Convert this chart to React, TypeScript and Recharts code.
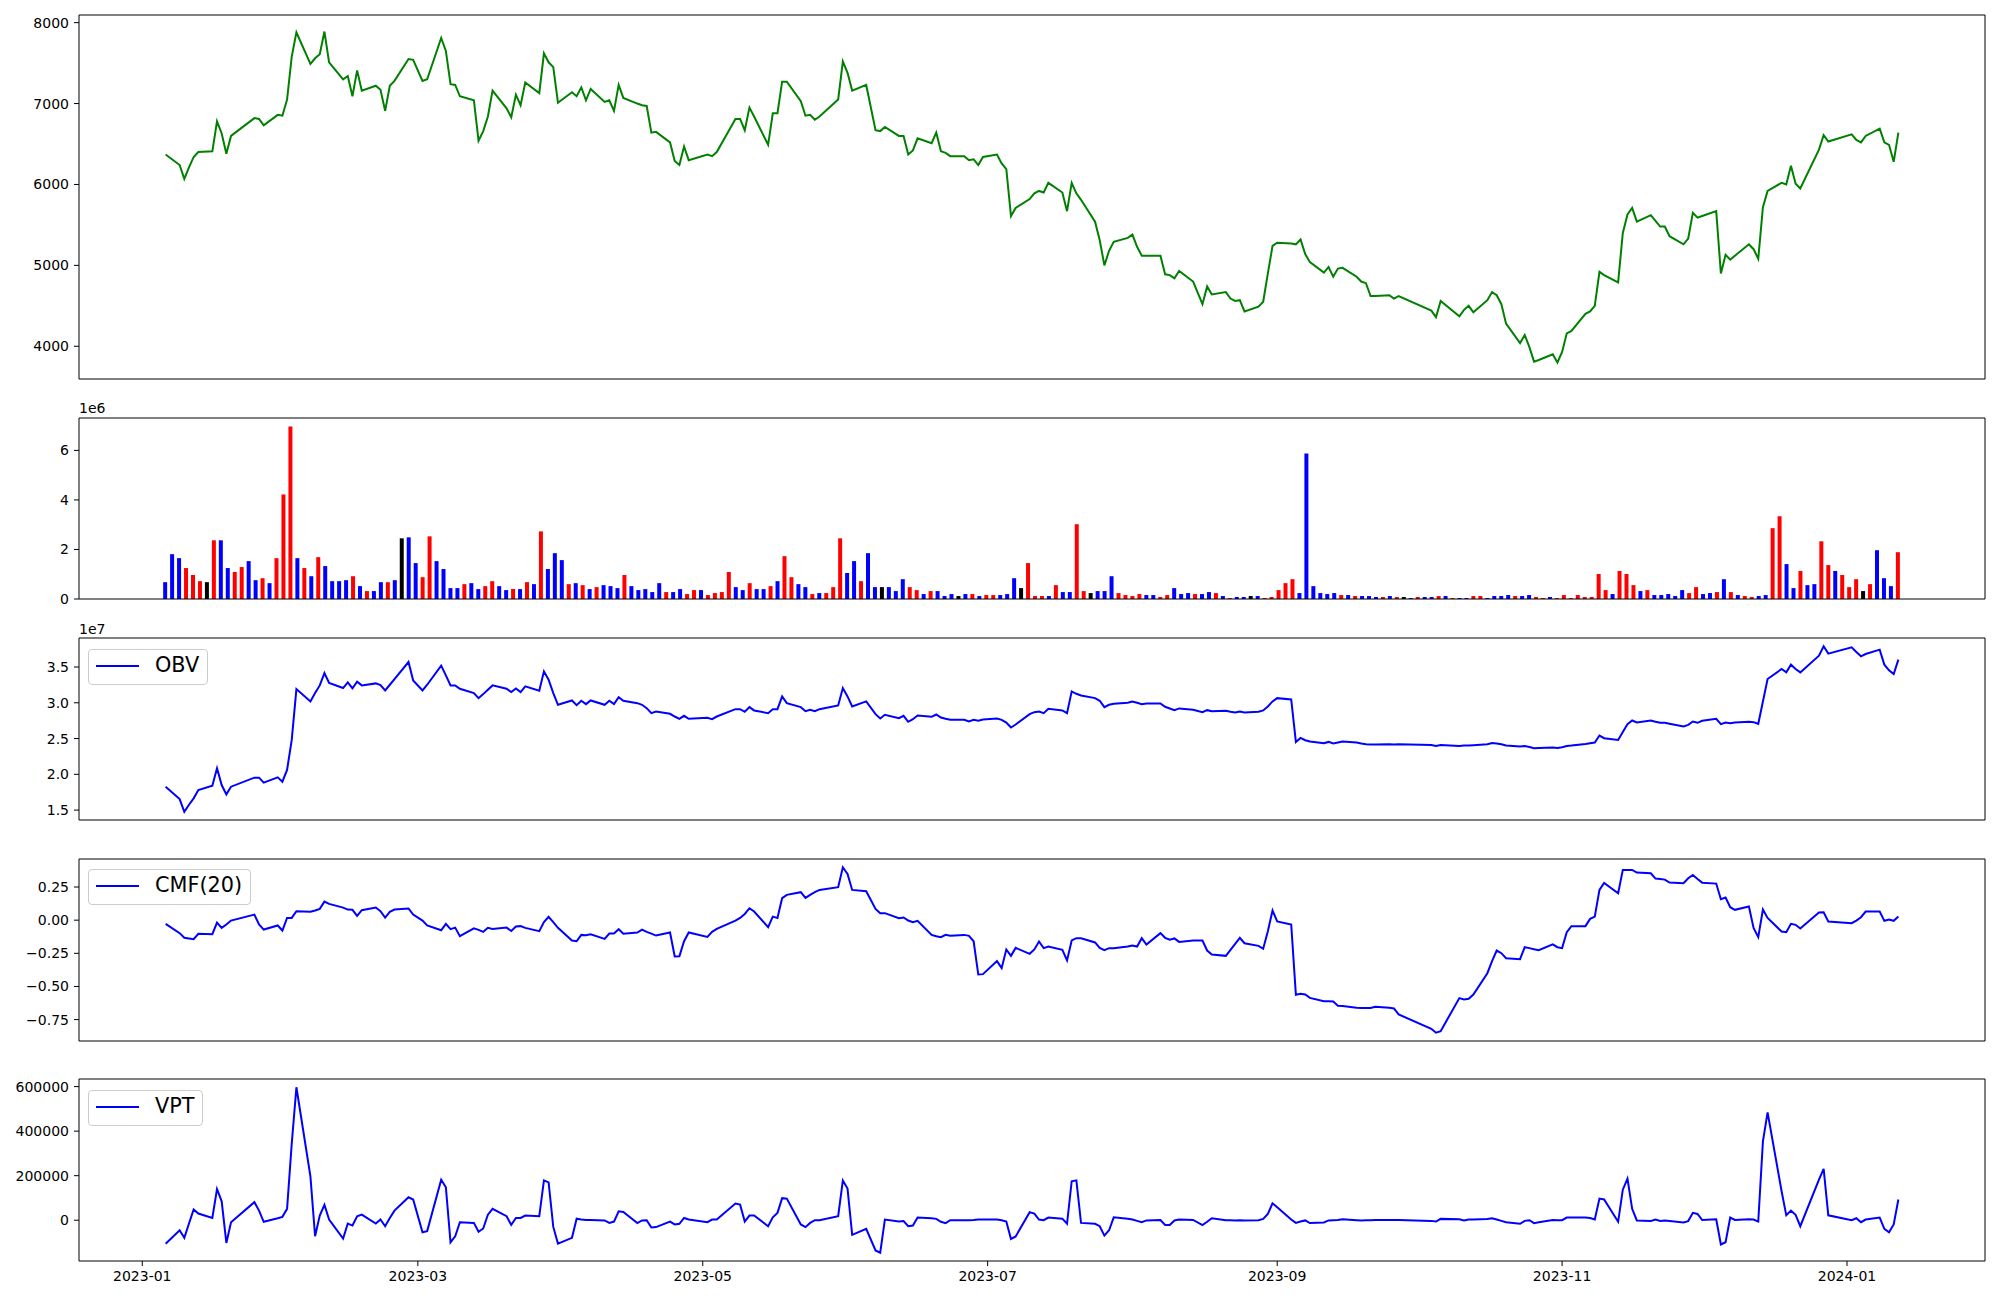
import React from 'react';
import { LineChart, Line, ComposedChart, Bar, Cell, XAxis, YAxis } from 'recharts';

// ---------- DATA ----------
const tradingCalendar: [string, number[]][] = [
  ['2023-01', [6, 9, 10, 11, 12, 13, 16, 17, 18, 19, 20, 25, 26, 27, 30, 31]],
  ['2023-02', [1, 2, 3, 6, 7, 8, 9, 10, 13, 14, 15, 16, 17, 20, 21, 22, 23, 24, 27, 28]],
  ['2023-03', [2, 3, 6, 7, 8, 9, 10, 13, 14, 15, 16, 17, 20, 21, 22, 23, 24, 27, 28, 29, 30, 31]],
  ['2023-04', [3, 4, 5, 6, 7, 10, 11, 12, 13, 14, 17, 18, 19, 20, 21, 24, 25, 26, 27, 28]],
  ['2023-05', [2, 3, 4, 8, 9, 10, 11, 12, 15, 16, 17, 18, 19, 22, 23, 24, 25, 26, 30, 31]],
  ['2023-06', [1, 2, 5, 7, 8, 9, 12, 13, 14, 15, 16, 19, 20, 21, 22, 23, 26, 27, 28, 29, 30]],
  ['2023-07', [3, 4, 5, 6, 7, 10, 11, 12, 13, 14, 17, 18, 19, 20, 21, 24, 25, 26, 27, 28, 31]],
  ['2023-08', [1, 2, 3, 4, 7, 8, 9, 10, 11, 14, 16, 17, 18, 21, 22, 23, 24, 25, 28, 29, 30, 31]],
  ['2023-09', [1, 4, 5, 6, 7, 8, 11, 12, 13, 14, 15, 18, 19, 20, 21, 22, 25, 26, 27]],
  ['2023-10', [4, 5, 6, 10, 11, 12, 13, 16, 17, 18, 19, 20, 23, 24, 25, 26, 27, 30, 31]],
  ['2023-11', [1, 2, 3, 6, 7, 8, 9, 10, 13, 14, 15, 16, 17, 20, 21, 22, 23, 24, 27, 28, 29, 30]],
  ['2023-12', [1, 4, 5, 6, 7, 8, 11, 12, 13, 14, 15, 18, 19, 20, 21, 22, 26, 27, 28]],
  ['2024-01', [2, 3, 4, 5, 8, 9, 10, 11, 12]],
];

const closePrice = [
  6370, 6240, 6070, 6210, 6340, 6400, 6410, 6780, 6630, 6380, 6600, 6820, 6810, 6730, 6860, 6850,
  7050, 7580, 7880, 7490, 7560, 7610, 7890, 7510, 7300, 7340, 7090, 7410, 7160, 7220, 7170, 6910, 7220, 7280, 7550, 7540,
  7280, 7300, 7810, 7650, 7240, 7230, 7090, 7040, 6540, 6660, 6840, 7160, 6940, 6830, 7110, 6980, 7260, 7130, 7620, 7510, 7450, 7010,
  7140, 7090, 7200, 7040, 7180, 7020, 7040, 6910, 7230, 7070, 7000, 6980, 6970, 6640, 6650, 6520, 6290, 6240, 6470, 6300,
  6370, 6350, 6400, 6810, 6810, 6670, 6950, 6840, 6490, 6880, 6880, 7270, 7270, 7030, 6850, 6860, 6800, 6840, 7050, 7520,
  7380, 7160, 7230, 6670, 6660, 6710, 6600, 6600, 6370, 6420, 6570, 6510, 6640, 6410, 6390, 6350, 6350, 6300, 6310, 6240, 6340,
  6370, 6260, 6190, 5610, 5710, 5820, 5890, 5920, 5900, 6020, 5900, 5670, 6020, 5890, 5810, 5540, 5310, 5000, 5180, 5290, 5340,
  5380, 5230, 5120, 5120, 5120, 4890, 4880, 4840, 4930, 4800, 4520, 4740, 4640, 4670, 4590, 4560, 4570, 4430, 4490, 4550, 4900, 5240,
  5280, 5270, 5260, 5320, 5140, 5040, 4910, 4980, 4860, 4960, 4970, 4860, 4800, 4780, 4620, 4620, 4630, 4590, 4620,
  4440, 4360, 4560, 4370, 4450, 4500, 4420, 4570, 4670, 4630, 4520, 4280, 4040, 4140, 3990, 3810, 3830, 3900, 3800,
  3930, 4160, 4190, 4400, 4430, 4500, 4920, 4880, 4790, 5400, 5630, 5710, 5540, 5620, 5550, 5480, 5480, 5360, 5260, 5330, 5650, 5590,
  5610, 5670, 4900, 5130, 5070, 5120, 5260, 5200, 5080, 5720, 5920, 6020, 6000, 6230, 6010, 5950, 6430, 6610, 6530,
  6620, 6550, 6520, 6600, 6690, 6520, 6490, 6280, 6640,
];

// volume in millions of shares (axis offset 1e6)
const volumeMillions = [
  0.68, 1.81, 1.65, 1.25, 0.97, 0.72, 0.68, 2.37, 2.37, 1.25, 1.09, 1.29, 1.53, 0.76, 0.84, 0.64,
  1.65, 4.22, 6.96, 1.65, 1.25, 0.92, 1.69, 1.33, 0.72, 0.72, 0.76, 0.92, 0.52, 0.32, 0.32, 0.68, 0.68, 0.76, 2.45, 2.49,
  1.45, 0.88, 2.53, 1.53, 1.21, 0.44, 0.44, 0.6, 0.64, 0.4, 0.52, 0.72, 0.52, 0.36, 0.4, 0.4, 0.68, 0.6, 2.73, 1.21, 1.85, 1.57,
  0.6, 0.64, 0.56, 0.4, 0.48, 0.56, 0.52, 0.44, 0.97, 0.52, 0.36, 0.4, 0.28, 0.64, 0.28, 0.28, 0.4, 0.2, 0.36, 0.36,
  0.16, 0.24, 0.28, 1.09, 0.48, 0.36, 0.64, 0.4, 0.4, 0.52, 0.72, 1.73, 0.88, 0.6, 0.48, 0.2, 0.24, 0.24, 0.48, 2.45,
  1.05, 1.53, 0.72, 1.85, 0.48, 0.48, 0.48, 0.32, 0.8, 0.48, 0.36, 0.2, 0.32, 0.32, 0.12, 0.2, 0.12, 0.2, 0.2, 0.12, 0.16,
  0.16, 0.16, 0.2, 0.84, 0.44, 1.45, 0.12, 0.12, 0.12, 0.56, 0.28, 0.28, 3.02, 0.32, 0.24, 0.32, 0.32, 0.92, 0.24, 0.16, 0.12,
  0.2, 0.16, 0.16, 0.08, 0.16, 0.44, 0.2, 0.24, 0.2, 0.2, 0.28, 0.24, 0.12, 0.04, 0.08, 0.08, 0.12, 0.12, 0.04, 0.08, 0.36, 0.64,
  0.8, 0.24, 5.87, 0.52, 0.24, 0.2, 0.24, 0.16, 0.16, 0.12, 0.12, 0.12, 0.08, 0.08, 0.12, 0.08, 0.08, 0.04, 0.08,
  0.08, 0.08, 0.12, 0.12, 0.04, 0.04, 0.04, 0.12, 0.12, 0.04, 0.12, 0.12, 0.16, 0.12, 0.12, 0.16, 0.08, 0.04, 0.08,
  0.04, 0.16, 0.04, 0.16, 0.08, 0.08, 1.01, 0.36, 0.2, 1.13, 1.01, 0.56, 0.32, 0.36, 0.16, 0.16, 0.2, 0.12, 0.36, 0.24, 0.48, 0.2,
  0.24, 0.28, 0.8, 0.28, 0.16, 0.12, 0.08, 0.12, 0.16, 2.86, 3.34, 1.41, 0.44, 1.13, 0.56, 0.6, 2.33, 1.37, 1.13,
  0.97, 0.48, 0.8, 0.32, 0.6, 1.97, 0.84, 0.52, 1.89,
];

// candle direction: 1 = up (red), -1 = down (blue), 0 = unchanged (black)
const candleDirection = [
  -1, -1, -1, 1, 1, 1, 0, 1, -1, -1, 1, 1, -1, -1, 1, -1,
  1, 1, 1, -1, 1, -1, 1, -1, -1, -1, -1, 1, -1, 1, -1, -1, 1, -1, 0, -1,
  -1, 1, 1, -1, -1, -1, -1, 1, -1, -1, 1, 1, -1, -1, 1, -1, 1, -1, 1, -1, -1, -1,
  1, -1, 1, -1, 1, -1, -1, -1, 1, -1, -1, -1, -1, -1, 1, -1, -1, 1, 1, -1,
  1, 1, 1, 1, -1, -1, 1, -1, -1, 1, -1, 1, 1, -1, -1, 1, -1, 1, 1, 1,
  -1, -1, 1, -1, -1, 0, -1, -1, -1, 1, 1, -1, 1, -1, -1, -1, 0, -1, 1, -1, 1,
  1, -1, -1, -1, 0, 1, 1, 1, -1, 1, -1, -1, 1, 1, 0, -1, -1, -1, 1, 1, 1,
  1, -1, -1, 1, 1, -1, -1, -1, 1, -1, -1, 1, -1, 1, -1, -1, 0, -1, 1, 1, 1, 1,
  1, -1, -1, -1, -1, -1, -1, 1, -1, 1, -1, -1, -1, 1, -1, 1, 0, -1, 1,
  -1, -1, 1, -1, 1, -1, -1, 1, 1, -1, -1, -1, -1, 1, -1, -1, 1, 1, -1,
  1, 1, 1, 1, 1, 1, 1, 1, -1, 1, 1, 1, -1, 1, -1, -1, -1, -1, -1, 1, 1, -1,
  -1, 1, -1, 1, -1, 1, 1, -1, -1, 1, 1, -1, -1, 1, -1, -1, 1, 1, -1,
  1, 1, 1, 0, 1, -1, -1, -1, 1,
];

// OBV in units of 1e7 (axis offset 1e7)
const obvE7 = [
  1.827, 1.654, 1.477, 1.575, 1.664, 1.78, 1.841, 2.084, 1.85, 1.72, 1.827, 1.953, 1.953, 1.883, 1.958, 1.897,
  2.061, 2.481, 3.192, 3.019, 3.136, 3.243, 3.416, 3.276, 3.206, 3.285, 3.201, 3.294, 3.243, 3.271, 3.248, 3.173, 3.252, 3.332, 3.57, 3.313,
  3.173, 3.252, 3.519, 3.383, 3.243, 3.243, 3.196, 3.136, 3.065, 3.121, 3.182, 3.243, 3.196, 3.15, 3.201, 3.15, 3.229, 3.168, 3.439, 3.322, 3.136, 2.972,
  3.033, 2.967, 3.028, 2.981, 3.033, 2.972, 3.028, 2.981, 3.079, 3.028, 2.995, 2.972, 2.925, 2.855, 2.879, 2.846, 2.808, 2.776, 2.818, 2.776,
  2.79, 2.771, 2.808, 2.911, 2.911, 2.874, 2.939, 2.893, 2.855, 2.911, 2.911, 3.089, 2.995, 2.939, 2.883, 2.902, 2.883, 2.911, 2.963, 3.206,
  3.089, 2.949, 3.019, 2.841, 2.78, 2.832, 2.785, 2.818, 2.734, 2.771, 2.822, 2.804, 2.836, 2.794, 2.776, 2.762, 2.762, 2.738, 2.762, 2.748, 2.766,
  2.78, 2.762, 2.724, 2.654, 2.696, 2.841, 2.869, 2.879, 2.855, 2.916, 2.893, 2.855, 3.159, 3.126, 3.103, 3.065, 3.028, 2.939, 2.972, 2.986, 3.0,
  3.019, 3.0, 2.981, 2.991, 2.991, 2.944, 2.921, 2.897, 2.921, 2.902, 2.869, 2.897, 2.883, 2.888, 2.874, 2.865, 2.879, 2.865, 2.874, 2.893, 2.949, 3.019,
  3.065, 3.047, 2.453, 2.509, 2.477, 2.458, 2.435, 2.453, 2.43, 2.444, 2.458, 2.444, 2.43, 2.421, 2.416, 2.416, 2.421, 2.416, 2.421,
  2.411, 2.397, 2.411, 2.397, 2.402, 2.402, 2.407, 2.421, 2.439, 2.43, 2.421, 2.402, 2.388, 2.397, 2.383, 2.364, 2.369, 2.374, 2.369,
  2.379, 2.397, 2.402, 2.425, 2.435, 2.444, 2.542, 2.505, 2.481, 2.593, 2.701, 2.752, 2.724, 2.752, 2.734, 2.72, 2.72, 2.706, 2.668, 2.692, 2.738, 2.72,
  2.748, 2.776, 2.701, 2.724, 2.715, 2.724, 2.734, 2.729, 2.706, 3.019, 3.332, 3.472, 3.425, 3.533, 3.472, 3.425, 3.659, 3.79, 3.687,
  3.776, 3.71, 3.65, 3.682, 3.743, 3.533, 3.453, 3.402, 3.603,
];

const cmf20 = [
  -0.028, -0.098, -0.133, -0.138, -0.143, -0.103, -0.106, -0.018, -0.058, -0.033, -0.003, 0.042, -0.033, -0.071, -0.04, -0.078,
  0.017, 0.017, 0.068, 0.063, 0.073, 0.085, 0.14, 0.123, 0.095, 0.08, 0.078, 0.032, 0.075, 0.095, 0.068, 0.02, 0.063, 0.08, 0.088, 0.042,
  -0.003, -0.04, -0.076, -0.028, -0.068, -0.056, -0.121, -0.061, -0.073, -0.088, -0.058, -0.066, -0.056, -0.081, -0.048, -0.045, -0.058, -0.083, -0.015, 0.025, -0.015, -0.058,
  -0.153, -0.159, -0.111, -0.113, -0.106, -0.141, -0.101, -0.101, -0.068, -0.103, -0.093, -0.071, -0.088, -0.101, -0.116, -0.093, -0.274, -0.272, -0.159, -0.093,
  -0.126, -0.088, -0.066, -0.003, 0.017, 0.047, 0.09, 0.065, -0.053, 0.027, 0.017, 0.166, 0.191, 0.211, 0.168, 0.191, 0.211, 0.228, 0.249, 0.399,
  0.349, 0.228, 0.218, 0.085, 0.053, 0.053, 0.015, 0.02, -0.003, -0.015, -0.005, -0.111, -0.121, -0.128, -0.111, -0.118, -0.111, -0.118, -0.159, -0.41, -0.407,
  -0.309, -0.362, -0.221, -0.269, -0.209, -0.254, -0.221, -0.161, -0.211, -0.199, -0.224, -0.304, -0.153, -0.136, -0.136, -0.168, -0.209, -0.226, -0.211, -0.211, -0.199,
  -0.191, -0.199, -0.136, -0.184, -0.098, -0.133, -0.148, -0.138, -0.164, -0.153, -0.153, -0.229, -0.259, -0.269, -0.224, -0.179, -0.133, -0.174, -0.194, -0.216, -0.083, 0.073,
  -0.01, -0.033, -0.563, -0.555, -0.561, -0.586, -0.611, -0.611, -0.613, -0.646, -0.648, -0.661, -0.663, -0.663, -0.663, -0.653, -0.661, -0.666, -0.711,
  -0.819, -0.849, -0.837, -0.588, -0.598, -0.593, -0.561, -0.4, -0.309, -0.229, -0.249, -0.287, -0.294, -0.204, -0.211, -0.219, -0.226, -0.183, -0.204,
  -0.211, -0.091, -0.045, -0.045, 0.01, 0.027, 0.228, 0.281, 0.203, 0.379, 0.379, 0.379, 0.359, 0.354, 0.314, 0.311, 0.306, 0.284, 0.279, 0.316, 0.341, 0.311,
  0.283, 0.276, 0.158, 0.171, 0.098, 0.078, 0.103, -0.058, -0.128, 0.08, 0.017, -0.086, -0.091, -0.028, -0.035, -0.063, 0.058, 0.06, -0.01,
  -0.023, -0.003, 0.022, 0.065, 0.065, -0.005, 0.005, -0.005, 0.027,
];

const vpt = [
  -106000, -45000, -79000, -15000, 48000, 30000, 10000, 140000, 85000, -102000, -9000, 81000, 43000, -7000, 9000, 15000,
  51000, 344000, 597000, 197000, -72000, 21000, 69000, 3000, -82000, -15000, -24000, 18000, 25000, -15000, 3000, -27000, 10000, 43000, 103000, 93000,
  -54000, -49000, 182000, 148000, -99000, -72000, -9000, -12000, -52000, -37000, 25000, 51000, 18000, -21000, 10000, 10000, 21000, 18000, 179000, 170000, -30000, -105000,
  -79000, 7000, 3000, 1000, 1000, -1000, -12000, -6000, 40000, 37000, -13000, -1000, 0, -33000, -31000, -6000, -19000, -16000, 10000, 3000,
  -9000, 3000, 3000, 75000, 70000, -6000, 21000, 21000, -27000, 13000, 33000, 99000, 97000, -19000, -31000, -12000, 0, 0, 18000, 178000,
  142000, -66000, -39000, -136000, -146000, 3000, -6000, -4000, -27000, -24000, 12000, 9000, 6000, -7000, -13000, 0, 0, 0, 1000, 3000, 3000,
  3000, 0, -6000, -84000, -73000, 36000, 30000, 3000, 0, 12000, 7000, -16000, 175000, 179000, -12000, -16000, -27000, -69000, -45000, 13000, 7000,
  3000, -3000, -9000, -1000, 1000, -21000, -21000, -1000, 3000, 1000, -22000, -7000, 9000, 0, 0, -1000, 0, -1000, 0, 6000, 28000, 76000,
  58000, 3000, -12000, -6000, -1000, -13000, -10000, -1000, 0, 1000, 4000, 0, -1000, 0, 0, 1000, 1000, 1000, 1000,
  -3000, -6000, 6000, 4000, -1000, 3000, 3000, 6000, 9000, 3000, -3000, -9000, -16000, -3000, 0, -13000, -9000, 1000, 0,
  0, 12000, 12000, 12000, 10000, 3000, 97000, 93000, -7000, 137000, 187000, 51000, -1000, -3000, 3000, -3000, -1000, -3000, -10000, -4000, 33000, 28000,
  1000, 4000, -109000, -99000, 12000, 1000, 4000, 3000, -6000, 354000, 484000, 130000, 22000, 43000, 24000, -27000, 182000, 231000, 22000,
  0, 9000, -9000, 3000, 12000, -39000, -54000, -19000, 93000,
];

const monthTickLabels = ['2023-01', '2023-03', '2023-05', '2023-07', '2023-09', '2023-11', '2024-01'];
const priceTicks = [4000, 5000, 6000, 7000, 8000];
const volumeTicks = [0, 2, 4, 6];
const obvTicks = [1.5, 2.0, 2.5, 3.0, 3.5];
const cmfTicks = [-0.75, -0.5, -0.25, 0, 0.25];
const vptTicks = [0, 200000, 400000, 600000];

// ---------- HELPERS ----------
const FONT = "'DejaVu Sans', sans-serif";
const CHART_W = 2000;
const PLOT_L = 79;
const PLOT_R = 1985;
const Y_AXIS_W = 60;
const M = 10; // vertical chart margin

const dayNumber = (s: string) => {
  const [y, m, d] = s.split('-').map(Number);
  return (Date.UTC(y, m - 1, d || 1) - Date.UTC(2023, 0, 1)) / 86400000;
};

const dates = tradingCalendar.flatMap(([ym, days]) =>
  days.map((d) => `${ym}-${String(d).padStart(2, '0')}`)
);
const xs = dates.map(dayNumber);
const monthTicks = monthTickLabels.map(dayNumber);

function padDomain(values: number[]): [number, number] {
  const mn = Math.min(...values);
  const mx = Math.max(...values);
  const p = (mx - mn) * 0.05;
  return [mn - p, mx + p];
}

const xDomain = padDomain(xs);
const tickStyle = { fill: '#000', fontSize: 14, fontFamily: FONT };
const axisLine = { stroke: '#000', strokeWidth: 1 };

const fmtMonth = (v: number) => {
  const idx = monthTicks.indexOf(v);
  return idx >= 0 ? monthTickLabels[idx] : '';
};
const minus = (s: string) => s.replace('-', '\u2212');

// chart margins so that the plot area is exactly [PLOT_L, PLOT_R] and the
// frame axes (1px wide/high) sit on the plot edges
const chartMargin = (bottomAxisH: number) => ({
  top: M - 1,
  right: CHART_W - PLOT_R - 1,
  bottom: bottomAxisH > 1 ? M : M - 1,
  left: PLOT_L - Y_AXIS_W,
});

function LinePanel({ top, height, values, color, yTicks, fmt, showX }: any) {
  const data = xs.map((x, i) => ({ x, v: values[i] }));
  const bottomH = showX ? 30 : 1;
  const yDomain = padDomain(values);
  return (
    <div style={{ position: 'absolute', left: 0, top: top - M }}>
      <LineChart
        width={CHART_W}
        height={height + 2 * M + (showX ? 30 : 0)}
        data={data}
        margin={chartMargin(bottomH)}
      >
        <XAxis
          dataKey="x"
          type="number"
          domain={xDomain}
          allowDataOverflow
          ticks={showX ? monthTicks : []}
          interval={0}
          tickFormatter={fmtMonth}
          tick={showX ? tickStyle : false}
          tickLine={showX ? axisLine : false}
          tickSize={5}
          tickMargin={5}
          axisLine={axisLine}
          height={bottomH}
        />
        <XAxis
          xAxisId="top"
          orientation="top"
          dataKey="x"
          type="number"
          domain={xDomain}
          allowDataOverflow
          ticks={[]}
          tick={false}
          tickLine={false}
          axisLine={axisLine}
          height={1}
        />
        <YAxis
          type="number"
          domain={yDomain}
          allowDataOverflow
          ticks={yTicks}
          interval={0}
          tickFormatter={fmt}
          tick={tickStyle}
          tickLine={axisLine}
          tickSize={5}
          tickMargin={5}
          axisLine={axisLine}
          width={Y_AXIS_W}
        />
        <YAxis
          yAxisId="right"
          orientation="right"
          type="number"
          domain={yDomain}
          allowDataOverflow
          ticks={[]}
          tick={false}
          tickLine={false}
          axisLine={axisLine}
          width={1}
        />
        <Line dataKey="v" type="linear" stroke={color} strokeWidth={2} dot={false} isAnimationActive={false} />
        <Line
          xAxisId="top"
          yAxisId="right"
          dataKey="v"
          type="linear"
          stroke="none"
          strokeWidth={0}
          dot={false}
          activeDot={false}
          legendType="none"
          isAnimationActive={false}
        />
      </LineChart>
    </div>
  );
}

function VolumePanel({ top, height }: any) {
  const data = volumeMillions.map((v, i) => ({ i, v, dir: candleDirection[i] }));
  const n = data.length;
  const plotW = PLOT_R - PLOT_L;
  const unit = plotW / ((n - 1) * 1.1);
  const pad = unit * (n - 1) * 0.05 - unit / 2;
  const yDomain: [number, number] = [0, Math.max(...volumeMillions) * 1.05];
  const colorOf = (d: number) => (d > 0 ? '#ff0000' : d < 0 ? '#0000ff' : '#000000');
  return (
    <div style={{ position: 'absolute', left: 0, top: top - M }}>
      <ComposedChart
        width={CHART_W}
        height={height + 2 * M}
        data={data}
        barCategoryGap={0}
        margin={chartMargin(1)}
      >
        <XAxis dataKey="i" type="category" padding={{ left: pad, right: pad }} tick={false} tickLine={false} axisLine={axisLine} height={1} />
        <XAxis
          xAxisId="top"
          orientation="top"
          dataKey="i"
          type="category"
          padding={{ left: pad, right: pad }}
          tick={false}
          tickLine={false}
          axisLine={axisLine}
          height={1}
        />
        <YAxis
          type="number"
          domain={yDomain}
          allowDataOverflow
          ticks={volumeTicks}
          interval={0}
          tick={tickStyle}
          tickLine={axisLine}
          tickSize={5}
          tickMargin={5}
          axisLine={axisLine}
          width={Y_AXIS_W}
        />
        <YAxis
          yAxisId="right"
          orientation="right"
          type="number"
          domain={yDomain}
          allowDataOverflow
          ticks={[]}
          tick={false}
          tickLine={false}
          axisLine={axisLine}
          width={1}
        />
        <Bar dataKey="v" barSize={4} isAnimationActive={false}>
          {data.map((d, k) => (
            <Cell key={k} fill={colorOf(d.dir)} />
          ))}
        </Bar>
        <Line
          xAxisId="top"
          yAxisId="right"
          dataKey="v"
          type="linear"
          stroke="none"
          strokeWidth={0}
          dot={false}
          activeDot={false}
          legendType="none"
          isAnimationActive={false}
        />
      </ComposedChart>
    </div>
  );
}

function OffsetText({ top, text }: any) {
  return (
    <div style={{ position: 'absolute', left: PLOT_L, top, fontSize: 14, lineHeight: '14px', fontFamily: FONT, color: '#000' }}>
      {text}
    </div>
  );
}

function LegendBox({ top, label }: any) {
  return (
    <div
      style={{
        position: 'absolute',
        left: 88,
        top,
        height: 36,
        boxSizing: 'border-box',
        border: '1px solid #cccccc',
        borderRadius: 4,
        background: 'rgba(255,255,255,0.8)',
        paddingLeft: 66,
        paddingRight: 8,
        paddingTop: 5,
        fontFamily: FONT,
        fontSize: 20.8,
        lineHeight: '20.8px',
        color: '#000',
        whiteSpace: 'nowrap',
      }}
    >
      <div style={{ position: 'absolute', left: 7, top: 15, width: 43, height: 2, background: '#0000ff' }} />
      {label}
    </div>
  );
}

export default function App() {
  return (
    <div style={{ position: 'absolute', left: 0, top: 0, width: 2000, height: 1300, background: '#fff', overflow: 'hidden' }}>
      <LinePanel top={15} height={364} values={closePrice} color="#008000" yTicks={priceTicks} fmt={(v: number) => String(v)} />
      <VolumePanel top={418} height={181} />
      <OffsetText top={401} text="1e6" />
      <LinePanel top={638} height={182} values={obvE7} color="#0000ff" yTicks={obvTicks} fmt={(v: number) => v.toFixed(1)} />
      <OffsetText top={622} text="1e7" />
      <LegendBox top={649} label="OBV" />
      <LinePanel top={859} height={182} values={cmf20} color="#0000ff" yTicks={cmfTicks} fmt={(v: number) => minus(v.toFixed(2))} />
      <LegendBox top={869} label="CMF(20)" />
      <LinePanel top={1079} height={182} values={vpt} color="#0000ff" yTicks={vptTicks} fmt={(v: number) => String(v)} showX />
      <LegendBox top={1090} label="VPT" />
    </div>
  );
}
